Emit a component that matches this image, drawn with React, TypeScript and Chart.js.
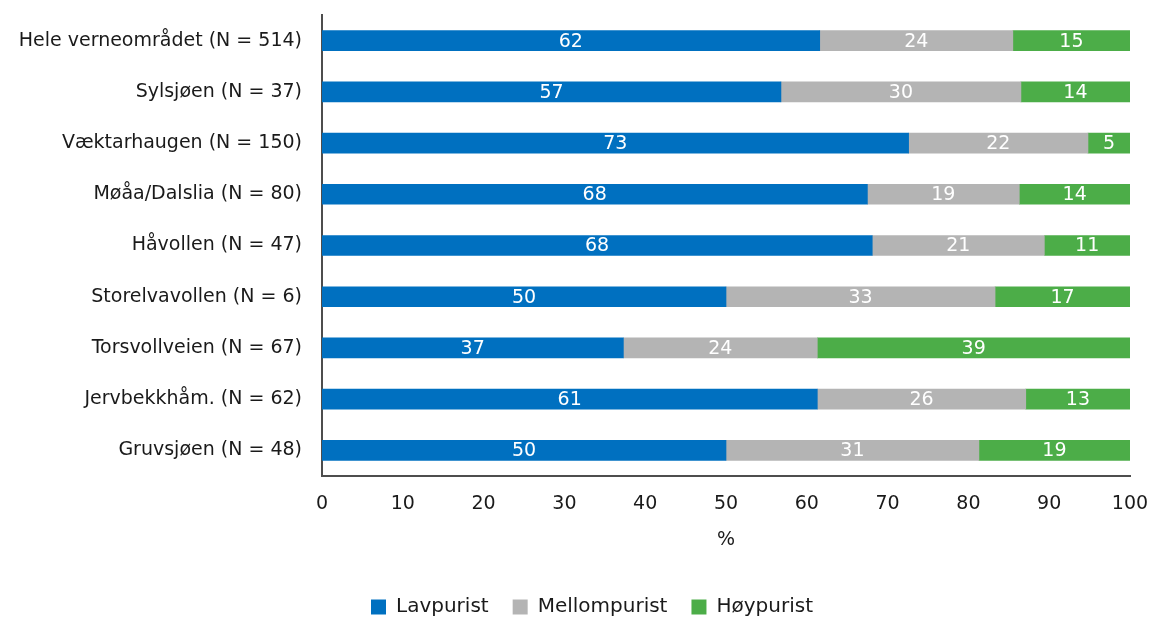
import React, { useEffect, useRef } from "react";
import { Chart, registerables } from "chart.js";

Chart.register(...registerables);

const categories = [
  "Hele verneområdet (N = 514)",
  "Sylsjøen (N = 37)",
  "Væktarhaugen (N = 150)",
  "Møåa/Dalslia (N = 80)",
  "Håvollen (N = 47)",
  "Storelvavollen (N = 6)",
  "Torsvollveien (N = 67)",
  "Jervbekkhåm. (N = 62)",
  "Gruvsjøen (N = 48)",
];
const lavpurist = [61.6, 56.8, 72.6, 67.5, 68.1, 50.0, 37.3, 61.3, 50.0];
const mellompurist = [23.9, 29.7, 22.2, 18.8, 21.3, 33.3, 24.0, 25.8, 31.3];
const hoypurist = [14.5, 13.5, 5.2, 13.7, 10.6, 16.7, 38.7, 12.9, 18.7];
const xTicks = [0, 10, 20, 30, 40, 50, 60, 70, 80, 90, 100];

const FONT = "'DejaVu Sans', sans-serif";
const FS = 19;
const LEG_FS = 20;
const LEGEND_SHIFT = 27;

const labelPlugin = {
  id: "segLabels",
  afterDatasetsDraw(chart: any) {
    const ctx = chart.ctx;
    ctx.save();
    ctx.fillStyle = "#ffffff";
    ctx.font = `${FS}px ${FONT}`;
    ctx.textAlign = "center";
    ctx.textBaseline = "middle";
    chart.data.datasets.forEach((ds: any, di: number) => {
      const meta = chart.getDatasetMeta(di);
      meta.data.forEach((bar: any, i: number) => {
        const v = ds.data[i];
        const cx = (bar.x + bar.base) / 2;
        ctx.fillText(String(Math.round(v)), cx, bar.y + 1);
      });
    });
    ctx.restore();
  },
};

const legendShiftPlugin = {
  id: "legendShift",
  afterLayout(chart: any) {
    if (chart.legend) {
      chart.legend.left += LEGEND_SHIFT;
      chart.legend.right += LEGEND_SHIFT;
    }
  },
};

export default function App() {
  const ref = useRef<HTMLCanvasElement>(null);
  useEffect(() => {
    const chart = new Chart(ref.current!, {
      type: "bar",
      data: {
        labels: categories,
        datasets: [
          { label: "Lavpurist", data: lavpurist, backgroundColor: "#0070C0" },
          { label: "Mellompurist", data: mellompurist, backgroundColor: "#B4B4B4" },
          { label: "Høypurist", data: hoypurist, backgroundColor: "#4CAD48" },
        ],
      },
      options: {
        indexAxis: "y",
        animation: false,
        responsive: false,
        maintainAspectRatio: false,
        layout: { padding: { top: 15, right: 22, left: 0, bottom: 0 } },
        datasets: { bar: { barThickness: 20 } },
        scales: {
          x: {
            stacked: true,
            min: 0,
            max: 100,
            grid: { display: false, drawTicks: false },
            border: { display: true, color: "#4d4d4d", width: 2 },
            afterBuildTicks: (s: any) => {
              s.ticks = xTicks.map((v) => ({ value: v }));
            },
            ticks: { color: "#1a1a1a", font: { size: FS, family: FONT }, padding: 17, maxRotation: 0 },
            title: { display: true, text: "%", color: "#1a1a1a", font: { size: FS, family: FONT }, padding: { top: 0, bottom: 22 } },
            afterFit: (s: any) => {
              s.height = 97;
              s.paddingRight = 0;
              s.paddingLeft = 0;
            },
          },
          y: {
            stacked: true,
            grid: { display: false },
            border: { display: true, color: "#4d4d4d", width: 2 },
            ticks: { color: "#1a1a1a", font: { size: FS, family: FONT }, padding: 12 },
            afterFit: (s: any) => {
              s.width = 322;
              s.paddingTop = 0;
              s.paddingBottom = 0;
            },
          },
        },
        plugins: {
          legend: {
            position: "bottom",
            maxHeight: 46,
            labels: { color: "#1a1a1a", font: { size: LEG_FS, family: FONT }, boxWidth: 15, boxHeight: 15, padding: 24 },
          },
          tooltip: { enabled: false },
        },
      },
      plugins: [labelPlugin, legendShiftPlugin],
    });
    return () => chart.destroy();
  }, []);
  return (
    <div style={{ position: "fixed", left: 0, top: 0, width: 1152, height: 619, background: "#fff" }}>
      <canvas ref={ref} width={1152} height={619} />
    </div>
  );
}
